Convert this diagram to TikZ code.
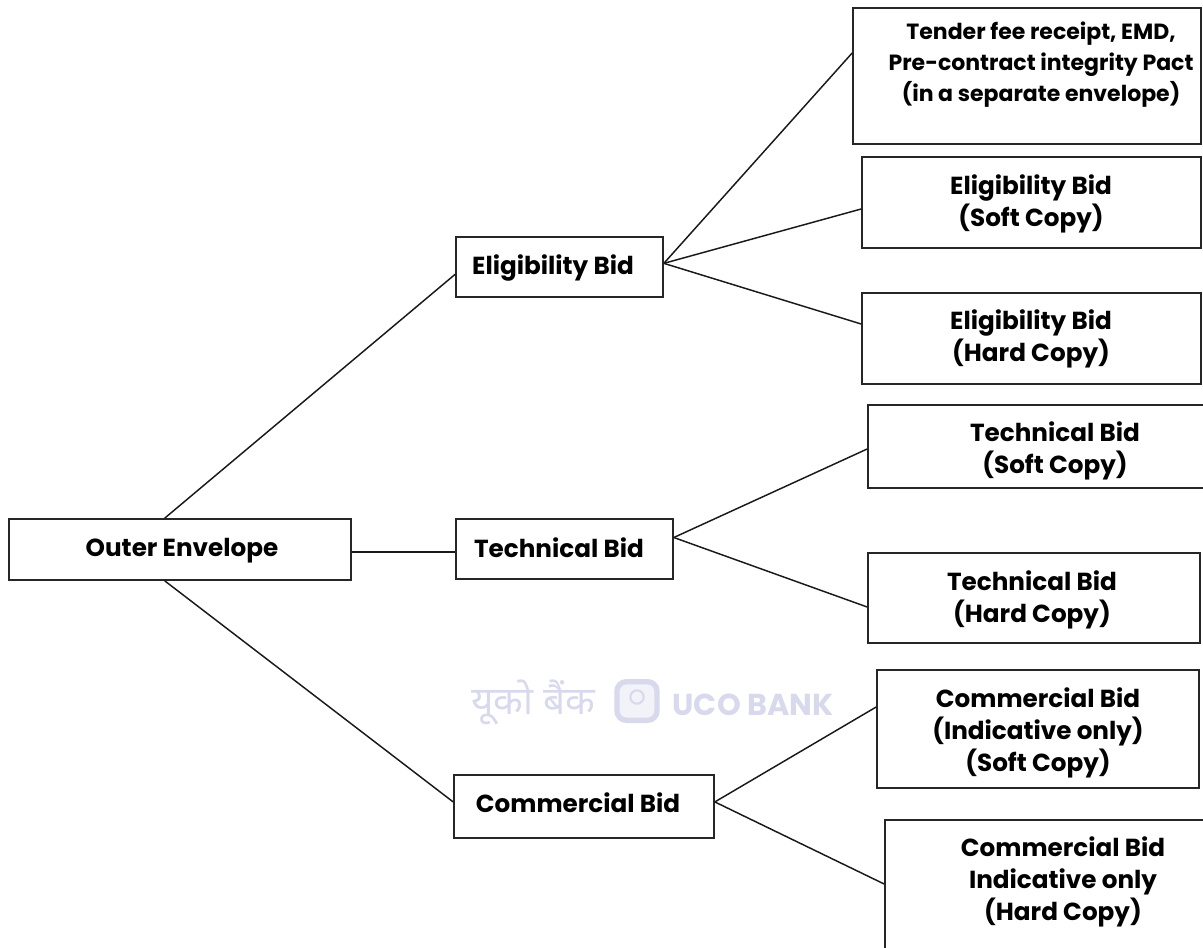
\documentclass[tikz,border=0pt]{standalone}
\usepackage{fontspec}
\setmainfont{Poppins}
\newfontfamily\hindifont[Script=Devanagari]{Noto Sans}
\usetikzlibrary{fit}
\colorlet{markcolor}{blue!35!gray!22!white}
\tikzset{bidbox/.style = {draw=black!85, line width=1.25pt, inner sep=0pt}}
\tikzset{bidtext/.style = {font=\bfseries\fontsize{18.5}{24.2}\selectfont, align=center, inner sep=0pt, text=black}}
\tikzset{tendertext/.style = {bidtext, font=\bfseries\fontsize{16.5}{23.2}\selectfont}}
\tikzset{marktext/.style = {font=\bfseries\fontsize{22.7}{24}\selectfont, inner sep=0pt, text=markcolor}}
\tikzset{arm/.style = {line width=1.1pt, draw=black!90}}
\begin{document}
\begin{tikzpicture}[x=0.75pt,y=-0.75pt]
\useasboundingbox (0,0) rectangle (1203,948);

% boxes
\node[bidbox, fit={(9,519) (351,580)}] (outer) {};
\node[bidbox, fit={(456,237) (663,297)}] (elig) {};
\node[bidbox, fit={(456,519) (673,579)}] (tech) {};
\node[bidbox, fit={(454,775) (714,838)}] (comm) {};

\node[bidbox, fit={(853,8) (1201,144)}] (tender) {};
\node[bidbox, fit={(862,157) (1201,248)}] (eligsoft) {};
\node[bidbox, fit={(862,293) (1201,384)}] (elighard) {};
\node[bidbox, fit={(868,405) (1215,488)}] (techsoft) {};
\node[bidbox, fit={(868,553) (1200,643)}] (techhard) {};
\node[bidbox, fit={(877,670) (1199,788)}] (commsoft) {};
\node[bidbox, fit={(885,820) (1215,965)}] (commhard) {};

% text
\node[bidtext] (outertext) at (182,551) {Outer Envelope};
\node[bidtext] (eligtext) at (553,268) {Eligibility Bid};
\node[bidtext] (techtext) at (559,548) {Technical Bid};
\node[bidtext] (commtext) at (578,803) {Commercial Bid};

\node[tendertext] (tendertxt) at (1041,65) {Tender fee receipt, EMD,\\Pre-contract integrity Pact\\(in a separate envelope)};
\node[bidtext] (eligsofttext) at (1031,204) {Eligibility Bid\\(Soft Copy)};
\node[bidtext] (elighardtext) at (1031,339) {Eligibility Bid\\(Hard Copy)};
\node[bidtext] (techsofttext) at (1055,451) {Technical Bid\\(Soft Copy)};
\node[bidtext] (techhardtext) at (1032,600) {Technical Bid\\(Hard Copy)};
\node[bidtext] (commsofttext) at (1038,733) {Commercial Bid\\(Indicative only)\\(Soft Copy)};
\node[bidtext] (commhardtext) at (1063,882) {Commercial Bid\\Indicative only\\(Hard Copy)};

% watermark
\node[marktext, font=\hindifont\bfseries\fontsize{29}{30}\selectfont] (markhindi) at (533,702) {यूको बैंक};
\node[marktext] (markname) at (753,705) {UCO BANK};
\node[draw=markcolor, fill=markcolor!35, line width=4pt, rounded corners=7pt, minimum width=30pt, minimum height=29pt, inner sep=0pt] (marklogo) at (637,701) {};
\node[draw=markcolor, line width=1.6pt, circle, minimum size=10pt, inner sep=0pt] (markhole) at (637,697) {};

% connectors
\draw[arm] (outer.116) -- (elig.184);
\draw[arm, line width=1.9pt] (outer.east |- 0,552) -- (tech.west |- 0,552);
\draw[arm] (outer.244) -- (comm.178);

\draw[arm] (elig.2.8) -- (tender.west |- 0,53);
\draw[arm] (elig.2.8) -- (eligsoft.west |- 0,209);
\draw[arm] (elig.2.8) -- (elighard.west |- 0,324);

\draw[arm] (tech.6) -- (techsoft.west |- 0,449);
\draw[arm] (tech.6) -- (techhard.west |- 0,607);

\draw[arm] (comm.2) -- (commsoft.west |- 0,707);
\draw[arm] (comm.2) -- (commhard.west |- 0,884);
\end{tikzpicture}
\end{document}
